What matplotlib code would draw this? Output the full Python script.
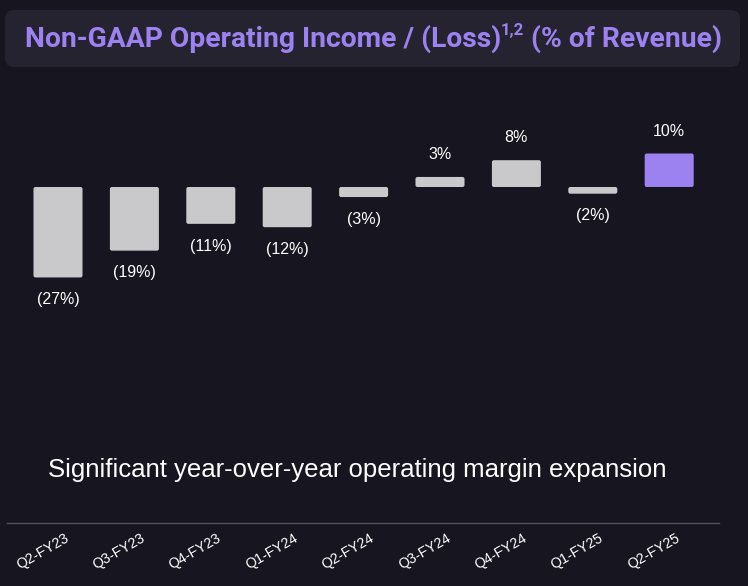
import matplotlib
matplotlib.use("Agg")
import matplotlib.pyplot as plt
from matplotlib.patches import FancyBboxPatch
from matplotlib.lines import Line2D
from matplotlib.transforms import blended_transform_factory

categories = ["Q2-FY23", "Q3-FY23", "Q4-FY23", "Q1-FY24", "Q2-FY24",
              "Q3-FY24", "Q4-FY24", "Q1-FY25", "Q2-FY25"]
values = [-27, -19, -11, -12, -3, 3, 8, -2, 10]
labels = ["(27%)", "(19%)", "(11%)", "(12%)", "(3%)", "3%", "8%", "(2%)", "10%"]
title_main = "Non-GAAP Operating Income / (Loss)"
title_sup = "1,2"
title_tail = " (% of Revenue)"
subtitle = "Significant year-over-year operating margin expansion"

BG = "#17151f"
BOX = "#25232f"
PURPLE = "#9c82f0"
GREY = "#c9c9cb"

W, H = 748, 586
fig = plt.figure(figsize=(W / 100, H / 100), dpi=100, facecolor=BG)

ax = fig.add_axes([0, 0, 1, 1])
ax.set_facecolor(BG)
pxx = 76.4
pxy = 3.35
ax.set_xlim(-58 / pxx, (W - 58) / pxx)
ax.set_ylim(-(H - 187) / pxy, 187 / pxy)
ax.axis("off")

bars = ax.bar(range(len(values)), values, width=49 / pxx)
aspect = (1 / pxy) / (1 / pxx)
for i, b in enumerate(bars):
    x, y = b.get_x(), b.get_y()
    w, h = b.get_width(), b.get_height()
    b.remove()
    col = PURPLE if i == len(values) - 1 else GREY
    if h < 0:
        y, h = y + h, -h
    r = 2 / pxx
    p = FancyBboxPatch((x, y), w, h,
                       boxstyle=f"round,pad=0,rounding_size={r}",
                       mutation_aspect=aspect, facecolor=col, edgecolor="none")
    ax.add_patch(p)

for i, (v, lab) in enumerate(zip(values, labels)):
    off = 16 if v > 0 else -16
    ax.annotate(lab, (i, v), xytext=(0, off), textcoords="offset points",
                ha="center", va="center", color="white", fontsize=11.5,
                family="Liberation Sans")

# title box
fig.patches.append(FancyBboxPatch((5 / W, 1 - 67 / H), 735 / W, 57 / H,
                                  boxstyle="round,pad=0,rounding_size=0.012",
                                  transform=fig.transFigure, facecolor=BOX,
                                  edgecolor="none", mutation_aspect=W / H))

tfont = dict(family="Roboto", weight="bold", color=PURPLE)
t1 = fig.text(25 / W, 1 - 39 / H, title_main, fontsize=20.3, va="center", ha="left", **tfont)
fig.canvas.draw()
r = fig.canvas.get_renderer()
bb = t1.get_window_extent(r)
t2 = fig.text((bb.x1 - 1) / W, 1 - 31 / H, title_sup, fontsize=12, va="center", ha="left", **tfont)
bb2 = t2.get_window_extent(r)
fig.text(bb2.x1 / W, 1 - 39 / H, title_tail, fontsize=20.3, va="center", ha="left", **tfont)

# subtitle
fig.text(48 / W, 1 - 470 / H, subtitle, fontsize=18.5, color="white",
         family="Liberation Sans", va="center", ha="left")

# axis line
fig.add_artist(Line2D([7 / W, 719 / W], [1 - 523 / H, 1 - 523 / H],
                      transform=fig.transFigure, color="#55535e", lw=1))

trans = blended_transform_factory(ax.transData, fig.transFigure)
for i, c in enumerate(categories):
    ax.text(i + 6 / pxx, 1 - 531 / H, c, transform=trans, rotation=30,
            rotation_mode="anchor", ha="right", va="top", color="white",
            fontsize=10.3, family="Liberation Sans")

fig.savefig("out.png", dpi=100, facecolor=BG)
